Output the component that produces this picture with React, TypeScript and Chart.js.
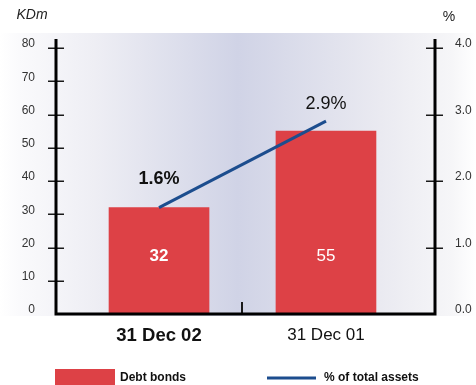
import React, { useEffect, useRef } from "react";
import { Chart, registerables } from "chart.js";

Chart.register(...registerables);

// ---- data ----
const categories = ["31 Dec 02", "31 Dec 01"];
const categoryBold = [true, false];
const debtBonds = [32, 55];
const pctTotalAssets = [1.6, 2.9];
const pctLabels = ["1.6%", "2.9%"];
const seriesNames = ["Debt bonds", "% of total assets"];
const leftAxisTitle = "KDm";
const rightAxisTitle = "%";

const FONT = "'Liberation Sans', Arial, sans-serif";
const RED = "#dd4146";
const BLUE = "#1c4d8e";
const PCT_LABEL_LIFT = [29, 17];

const bgPlugin = {
  id: "bgPanel",
  beforeDraw(chart: any) {
    const { ctx, chartArea: a, width } = chart;
    const top = a.top - 15;
    const bottom = a.bottom + 2;
    ctx.save();
    const g = ctx.createLinearGradient(0, 0, width, 0);
    g.addColorStop(0, "#ffffff");
    g.addColorStop(0.04, "#fafafc");
    g.addColorStop(0.2, "#eeeef4");
    g.addColorStop(0.5, "#d0d3e6");
    g.addColorStop(0.8, "#eaeaf1");
    g.addColorStop(0.95, "#f6f6f8");
    g.addColorStop(1, "#ffffff");
    ctx.fillStyle = g;
    ctx.fillRect(0, top, width, bottom - top);
    ctx.restore();
  },
};

const axesPlugin = {
  id: "axesDraw",
  afterDatasetsDraw(chart: any) {
    const { ctx, chartArea: a, scales } = chart;
    ctx.save();
    ctx.strokeStyle = "#1a1a1a";
    ctx.lineWidth = 1.5;
    scales.y.ticks.forEach((t: any) => {
      if (t.value === 0) return;
      const y = Math.round(scales.y.getPixelForValue(t.value)) + 0.25;
      ctx.beginPath();
      ctx.moveTo(a.left - 8, y);
      ctx.lineTo(a.left + 8, y);
      ctx.stroke();
    });
    scales.y2.ticks.forEach((t: any) => {
      if (t.value === 0) return;
      const y = Math.round(scales.y2.getPixelForValue(t.value)) + 0.25;
      ctx.beginPath();
      ctx.moveTo(a.right - 9, y);
      ctx.lineTo(a.right + 8, y);
      ctx.stroke();
    });
    ctx.lineWidth = 2;
    const mx = Math.round(scales.x.getPixelForValue((categories.length - 1) / 2));
    ctx.beginPath();
    ctx.moveTo(mx, a.bottom - 12);
    ctx.lineTo(mx, a.bottom);
    ctx.stroke();
    ctx.strokeStyle = "#000";
    ctx.lineWidth = 3;
    ctx.beginPath();
    ctx.moveTo(a.left, a.top - 9);
    ctx.lineTo(a.left, a.bottom);
    ctx.lineTo(a.right, a.bottom);
    ctx.lineTo(a.right, a.top - 9);
    ctx.stroke();
    ctx.restore();
  },
};

const labelsPlugin = {
  id: "labelsDraw",
  afterDraw(chart: any) {
    const { ctx, chartArea: a } = chart;
    ctx.save();
    ctx.textAlign = "center";
    ctx.textBaseline = "middle";
    const barMeta = chart.getDatasetMeta(0);
    barMeta.data.forEach((el: any, i: number) => {
      ctx.fillStyle = "#ffffff";
      ctx.font = `${categoryBold[i] ? "bold " : ""}17px ${FONT}`;
      ctx.fillText(String(debtBonds[i]), el.x, el.base - 58);
    });
    const lineMeta = chart.getDatasetMeta(1);
    lineMeta.data.forEach((el: any, i: number) => {
      ctx.fillStyle = "#111111";
      ctx.font = `${categoryBold[i] ? "bold " : ""}18px ${FONT}`;
      ctx.fillText(pctLabels[i], barMeta.data[i].x, el.y - PCT_LABEL_LIFT[i]);
    });
    ctx.fillStyle = "#222222";
    ctx.font = `italic 14px ${FONT}`;
    ctx.fillText(leftAxisTitle, a.left - 24, 15);
    ctx.font = `14px ${FONT}`;
    ctx.fillText(rightAxisTitle, a.right + 14, 17);
    const ly = 378;
    ctx.fillStyle = RED;
    ctx.fillRect(55, ly - 9, 60, 18);
    ctx.fillStyle = "#111111";
    ctx.textAlign = "left";
    ctx.font = `bold 12px ${FONT}`;
    ctx.fillText(seriesNames[0], 120, ly);
    ctx.strokeStyle = BLUE;
    ctx.lineWidth = 3;
    ctx.beginPath();
    ctx.moveTo(267, ly);
    ctx.lineTo(316, ly);
    ctx.stroke();
    ctx.fillText(seriesNames[1], 324, ly);
    ctx.restore();
  },
};

export default function App() {
  const ref = useRef<HTMLCanvasElement | null>(null);

  useEffect(() => {
    if (!ref.current) return;
    const chart = new Chart(ref.current, {
      type: "bar",
      data: {
        datasets: [
          {
            type: "bar",
            label: seriesNames[0],
            data: debtBonds.map((v, i) => ({ x: i, y: v })),
            backgroundColor: RED,
            barThickness: 100,
            yAxisID: "y",
            xAxisID: "x",
            order: 2,
          } as any,
          {
            type: "line",
            label: seriesNames[1],
            data: pctTotalAssets.map((v, i) => ({ x: i, y: v })),
            borderColor: BLUE,
            borderWidth: 3,
            pointRadius: 0,
            yAxisID: "y2",
            xAxisID: "x",
            order: 1,
          } as any,
        ],
      },
      options: {
        animation: false,
        responsive: true,
        maintainAspectRatio: false,
        layout: { padding: { top: 48, left: 0, right: 0, bottom: 0 } },
        plugins: { legend: { display: false }, tooltip: { enabled: false } },
        scales: {
          x: {
            type: "linear",
            offset: false,
            min: -0.617,
            max: 1.653,
            grid: { display: false },
            border: { display: false },
            afterBuildTicks: (s: any) => {
              s.ticks = categories.map((_, i) => ({ value: i }));
            },
            afterFit: (s: any) => {
              s.height = 71;
            },
            ticks: {
              autoSkip: false,
              maxRotation: 0,
              padding: 3,
              color: "#111111",
              font: (c: any) => ({
                family: FONT,
                size: categoryBold[c.index] ? 18.5 : 17,
                weight: categoryBold[c.index] ? "bold" : "normal",
              }),
              callback: (v: any) => categories[v] ?? "",
            },
          } as any,
          y: {
            position: "left",
            min: 0,
            max: 80,
            grid: { display: false },
            border: { display: false },
            afterFit: (s: any) => {
              s.width = 56;
            },
            ticks: {
              stepSize: 10,
              padding: 13,
              labelOffset: -4,
              color: "#333333",
              font: { family: FONT, size: 12 },
            },
          } as any,
          y2: {
            position: "right",
            min: 0,
            max: 4,
            grid: { display: false },
            border: { display: false },
            afterFit: (s: any) => {
              s.width = 41;
            },
            ticks: {
              stepSize: 1,
              padding: 12,
              labelOffset: -4,
              color: "#333333",
              font: { family: FONT, size: 12 },
              callback: (v: any) => Number(v).toFixed(1),
            },
          } as any,
        },
      },
      plugins: [bgPlugin, axesPlugin, labelsPlugin],
    });
    return () => chart.destroy();
  }, []);

  return (
    <div style={{ position: "absolute", left: 0, top: 0, width: 476, height: 385 }}>
      <canvas ref={ref} />
    </div>
  );
}
